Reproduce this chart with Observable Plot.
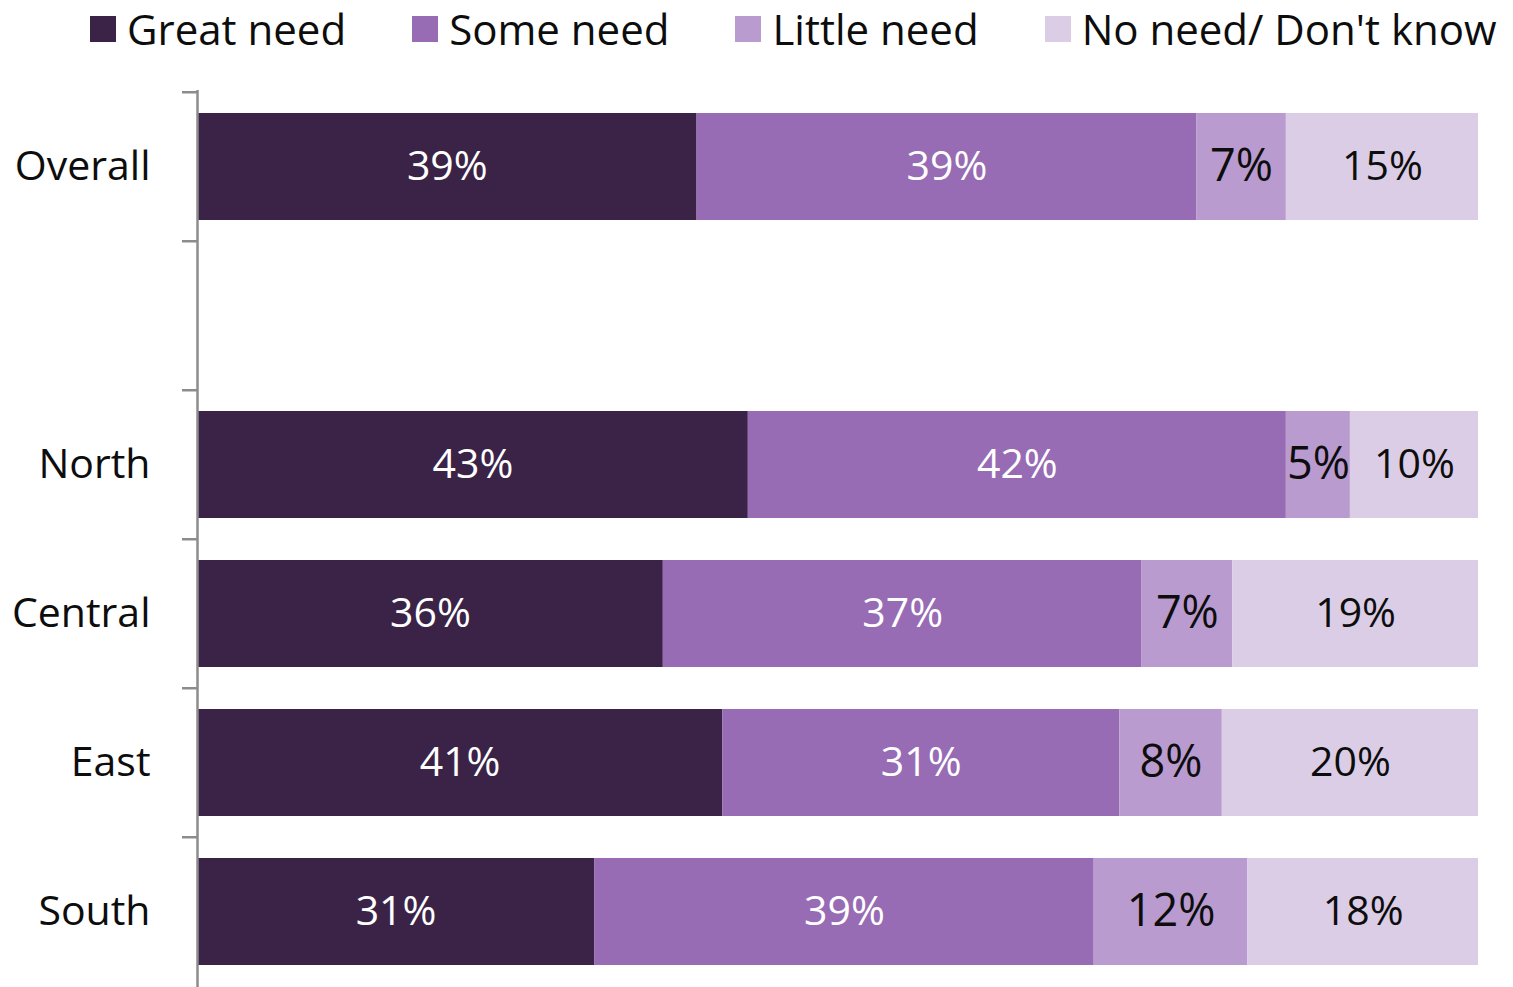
<!DOCTYPE html>
<html>
<head>
<meta charset="utf-8">
<script src="https://cdn.jsdelivr.net/npm/d3@7"></script>
<script src="https://cdn.jsdelivr.net/npm/@observablehq/plot@0.6"></script>
<style>
  html, body { margin: 0; padding: 0; background: #fff; }
  body { width: 1513px; height: 987px; overflow: hidden; font-family: "Open Sans", sans-serif; }
  #legend { height: 58px; display: flex; align-items: center; padding-left: 90px; gap: 66px; box-sizing: border-box; }
  .item { display: flex; align-items: center; font-size: 42px; color: #0d0d0d; white-space: nowrap; line-height: 58px; }
  .sw { width: 26px; height: 26px; margin-right: 11px; flex: none; }
  svg { display: block; }
</style>
</head>
<body>
<div id="legend"></div>
<div id="chart"></div>
<script>
const regions = ["Overall", "blank", "North", "Central", "East", "South"];
const categories = ["Great need", "Some need", "Little need", "No need/ Don't know"];
const colors = ["#3b2347", "#976cb4", "#b99bcf", "#dbcde6"];
const greatNeed  = [39, 43, 36, 41, 31];
const someNeed   = [39, 42, 37, 31, 39];
const littleNeed = [7, 5, 7, 8, 12];
const noNeed     = [15, 10, 19, 20, 18];
const dataRegions = ["Overall", "North", "Central", "East", "South"];

const series = [greatNeed, someNeed, littleNeed, noNeed];
const data = [];
dataRegions.forEach((r, i) => {
  categories.forEach((c, j) => data.push({region: r, category: c, value: series[j][i]}));
});

// legend
const legend = document.getElementById("legend");
categories.forEach((c, i) => {
  const it = document.createElement("div");
  it.className = "item";
  const sw = document.createElement("span");
  sw.className = "sw";
  sw.style.background = colors[i];
  it.appendChild(sw);
  it.appendChild(document.createTextNode(c));
  legend.appendChild(it);
});

const W = 1513, H = 929, MT = 32, MB = 0;
const step = (H - MT - MB) / regions.length;
const stackOpts = {x: "value", y: "region", z: "category", offset: "normalize", order: categories};
const labelFor = (cats) => d => cats.includes(d.category) ? d.value + "%" : null;

const chart = Plot.plot({
  width: W,
  height: H,
  marginTop: MT,
  marginBottom: MB,
  marginLeft: 197,
  marginRight: 35,
  style: {fontFamily: "'Open Sans', sans-serif", background: "#fff"},
  x: {axis: null, domain: [0, 1]},
  y: {domain: regions, paddingInner: 0.285, paddingOuter: 0.1425, label: null},
  color: {domain: categories, range: colors},
  marks: [
    Plot.barX(data, Plot.stackX({...stackOpts, fill: "category"})),
    Plot.text(data, Plot.stackX({...stackOpts, text: labelFor([categories[0], categories[1]]), fill: "#ffffff", fontSize: 41})),
    Plot.text(data, Plot.stackX({...stackOpts, text: labelFor([categories[2]]), fill: "#0d0d0d", fontSize: 45})),
    Plot.text(data, Plot.stackX({...stackOpts, text: labelFor([categories[3]]), fill: "#0d0d0d", fontSize: 41})),
    Plot.ruleX([0], {stroke: "#8c8c8c", strokeWidth: 2.5}),
    Plot.ruleY(regions, {y: d => d, x1: 0, x2: 0, insetLeft: -15, dy: -step / 2, stroke: "#8c8c8c", strokeWidth: 2.5}),
    Plot.axisY({tickSize: 0, tickPadding: 47, fontSize: 41, fill: "#0d0d0d", label: null,
      tickFormat: d => d === "blank" ? "" : d})
  ]
});
document.getElementById("chart").appendChild(chart);
</script>
</body>
</html>
